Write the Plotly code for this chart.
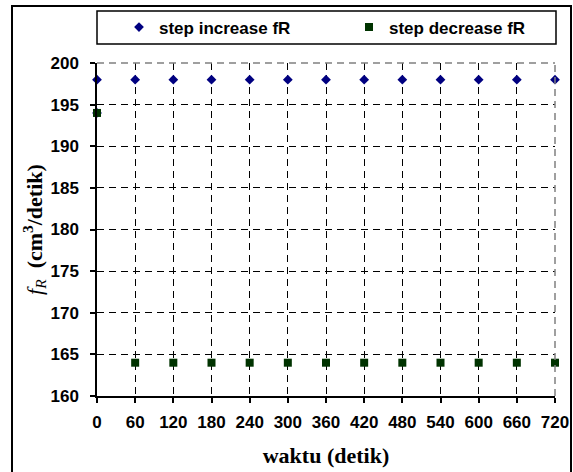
import plotly.graph_objects as go

# Data
waktu = [0, 60, 120, 180, 240, 300, 360, 420, 480, 540, 600, 660, 720]
inc_x = [0] + waktu
inc_y = [194] + [198] * 13
dec_x = waktu
dec_y = [194] + [164] * 12
x_ticks = waktu
y_ticks = [160, 165, 170, 175, 180, 185, 190, 195, 200]

L, R, T, B = 97, 18, 63, 76
W, H = 573, 472
pw, ph = W - L - R, H - T - B

def px(x):
    return (x - L) / pw

def py(y):
    return (H - B - y) / ph

fig = go.Figure()
fig.add_trace(go.Scatter(
    x=inc_x, y=inc_y, mode="markers", name="step increase fR",
    marker=dict(symbol="diamond", size=7.5, color="#000080"),
    cliponaxis=False,
))
fig.add_trace(go.Scatter(
    x=dec_x, y=dec_y, mode="markers", name="step decrease fR",
    marker=dict(symbol="square", size=8, color="#003300"),
    cliponaxis=False,
))

tickfont = dict(family="Liberation Sans, Arial", size=17, color="black", weight="bold")
titlefont = dict(family="Liberation Serif, Times New Roman", size=22, color="black", weight="bold")
fig.update_layout(
    width=W, height=H,
    margin=dict(l=L, r=R, t=T, b=B, autoexpand=False),
    paper_bgcolor="white", plot_bgcolor="white",
    showlegend=True,
    legend=dict(
        orientation="h", x=px(119), y=py(27.5), xanchor="left", yanchor="middle",
        bgcolor="rgba(0,0,0,0)", borderwidth=0,
        font=dict(family="Liberation Sans, Arial", size=17, color="black", weight="bold"),
        entrywidth=185, entrywidthmode="pixels", itemwidth=30,
    ),
    xaxis=dict(
        range=[0, 720], tickvals=x_ticks, ticktext=[str(v) for v in x_ticks],
        showline=True, linecolor="black", linewidth=1.5,
        ticks="outside", ticklen=5, tickcolor="black", tickwidth=1.5,
        showgrid=True, gridcolor="black", gridwidth=1, griddash="7px,5px",
        zeroline=False, tickfont=tickfont, ticklabelstandoff=5, automargin=False,
        title=dict(text="waktu (detik)", standoff=16, font=titlefont),
    ),
    yaxis=dict(
        range=[160, 200], tickvals=y_ticks,
        showline=True, linecolor="black", linewidth=1.5,
        ticks="outside", ticklen=5, tickcolor="black", tickwidth=1.5,
        showgrid=True, gridcolor="black", gridwidth=1, griddash="7px,5px",
        zeroline=False, tickfont=tickfont, ticklabelstandoff=8, automargin=False,
        title=dict(text="<span style='font-weight:normal'><i>f</i><sub><i>R</i></sub></span>  (cm<sup>3</sup>/detik)",
                   standoff=2, font=titlefont),
    ),
    shapes=[
        dict(type="rect", xref="paper", yref="paper", x0=px(12), x1=px(571), y0=py(480), y1=py(6),
             line=dict(color="black", width=2), fillcolor="rgba(0,0,0,0)", layer="below"),
        dict(type="rect", xref="paper", yref="paper", x0=px(97), x1=px(556), y0=py(44), y1=py(11),
             line=dict(color="black", width=1.5), fillcolor="rgba(0,0,0,0)", layer="below"),
        dict(type="line", xref="paper", yref="paper", x0=0, x1=1, y0=1, y1=1,
             line=dict(color="#808080", width=1.5, dash="7px,5px")),
        dict(type="line", xref="paper", yref="paper", x0=1, x1=1, y0=0, y1=1,
             line=dict(color="#808080", width=1.5, dash="7px,5px")),
    ],
)

fig.write_html("out.html", config={"displayModeBar": False},
               post_script="document.body.style.margin='0';")
